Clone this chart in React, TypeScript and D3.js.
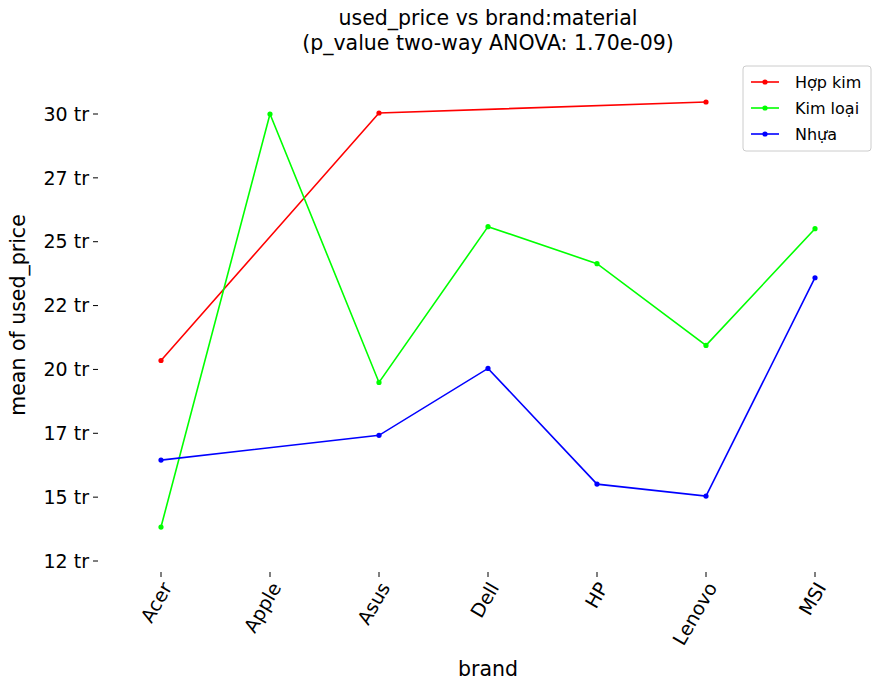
import { scaleLinear, scalePoint, line } from 'd3'

const BRANDS = ['Acer', 'Apple', 'Asus', 'Dell', 'HP', 'Lenovo', 'MSI']
const Y_TICKS = [12.5, 15, 17.5, 20, 22.5, 25, 27.5, 30]
const HOP_KIM: [string, number][] = [['Acer', 20.35], ['Asus', 30.04], ['Lenovo', 30.47]]
const KIM_LOAI: [string, number][] = [
  ['Acer', 13.83], ['Apple', 30.0], ['Asus', 19.49], ['Dell', 25.59], ['HP', 24.14], ['Lenovo', 20.94], ['MSI', 25.51],
]
const NHUA: [string, number][] = [
  ['Acer', 16.45], ['Asus', 17.42], ['Dell', 20.04], ['HP', 15.51], ['Lenovo', 15.04], ['MSI', 23.59],
]
const SERIES = [
  { name: 'Hợp kim', color: '#ff0000', data: HOP_KIM },
  { name: 'Kim loại', color: '#00ff00', data: KIM_LOAI },
  { name: 'Nhựa', color: '#0000ff', data: NHUA },
]

export default function App() {
  const W = 889, H = 690
  const font = 'DejaVu Sans'
  const x = scalePoint<string>().domain(BRANDS).range([161, 815])
  const y = scaleLinear().domain([12.5, 30]).range([561, 114])
  const path = line<[string, number]>().x((d) => x(d[0])!).y((d) => y(d[1]))

  return (
    <svg width={W} height={H} style={{ position: 'absolute', left: 0, top: 0, background: '#fff' }} fontFamily={font}>
      <text x={488} y={25} textAnchor="middle" fontSize={20.5}>used_price vs brand:material</text>
      <text x={488} y={50} textAnchor="middle" fontSize={20.5}>(p_value two-way ANOVA: 1.70e-09)</text>
      {Y_TICKS.map((t) => (
        <g key={t}>
          <line x1={93} x2={98} y1={y(t)} y2={y(t)} stroke="#000" />
          <text x={89} y={y(t)} dy="0.35em" textAnchor="end" fontSize={19}>{Math.floor(t)} tr</text>
        </g>
      ))}
      {BRANDS.map((b) => (
        <g key={b}>
          <line x1={x(b)} x2={x(b)} y1={572} y2={577} stroke="#000" />
          <text transform={`translate(${x(b)! + 6},${584}) rotate(-60)`} textAnchor="end" dy="0.35em" fontSize={19}>{b}</text>
        </g>
      ))}
      <text x={488} y={676} textAnchor="middle" fontSize={20.5}>brand</text>
      <text transform="translate(25,315) rotate(-90)" textAnchor="middle" fontSize={20.5}>mean of used_price</text>
      {SERIES.map((s) => (
        <g key={s.name}>
          <path d={path(s.data)!} fill="none" stroke={s.color} strokeWidth={1.6} />
          {s.data.map((d) => (
            <circle key={d[0]} cx={x(d[0])} cy={y(d[1])} r={2.6} fill={s.color} />
          ))}
        </g>
      ))}
      <g transform="translate(743,66)">
        <rect x={0} y={0} width={128} height={85} rx={3} fill="#fff" stroke="#ccc" />
        {SERIES.map((s, i) => (
          <g key={s.name} transform={`translate(0,${16 + i * 26})`}>
            <line x1={8} x2={36} stroke={s.color} strokeWidth={1.6} />
            <circle cx={22} r={2.6} fill={s.color} />
            <text x={52} dy="0.35em" fontSize={16}>{s.name}</text>
          </g>
        ))}
      </g>
    </svg>
  )
}
